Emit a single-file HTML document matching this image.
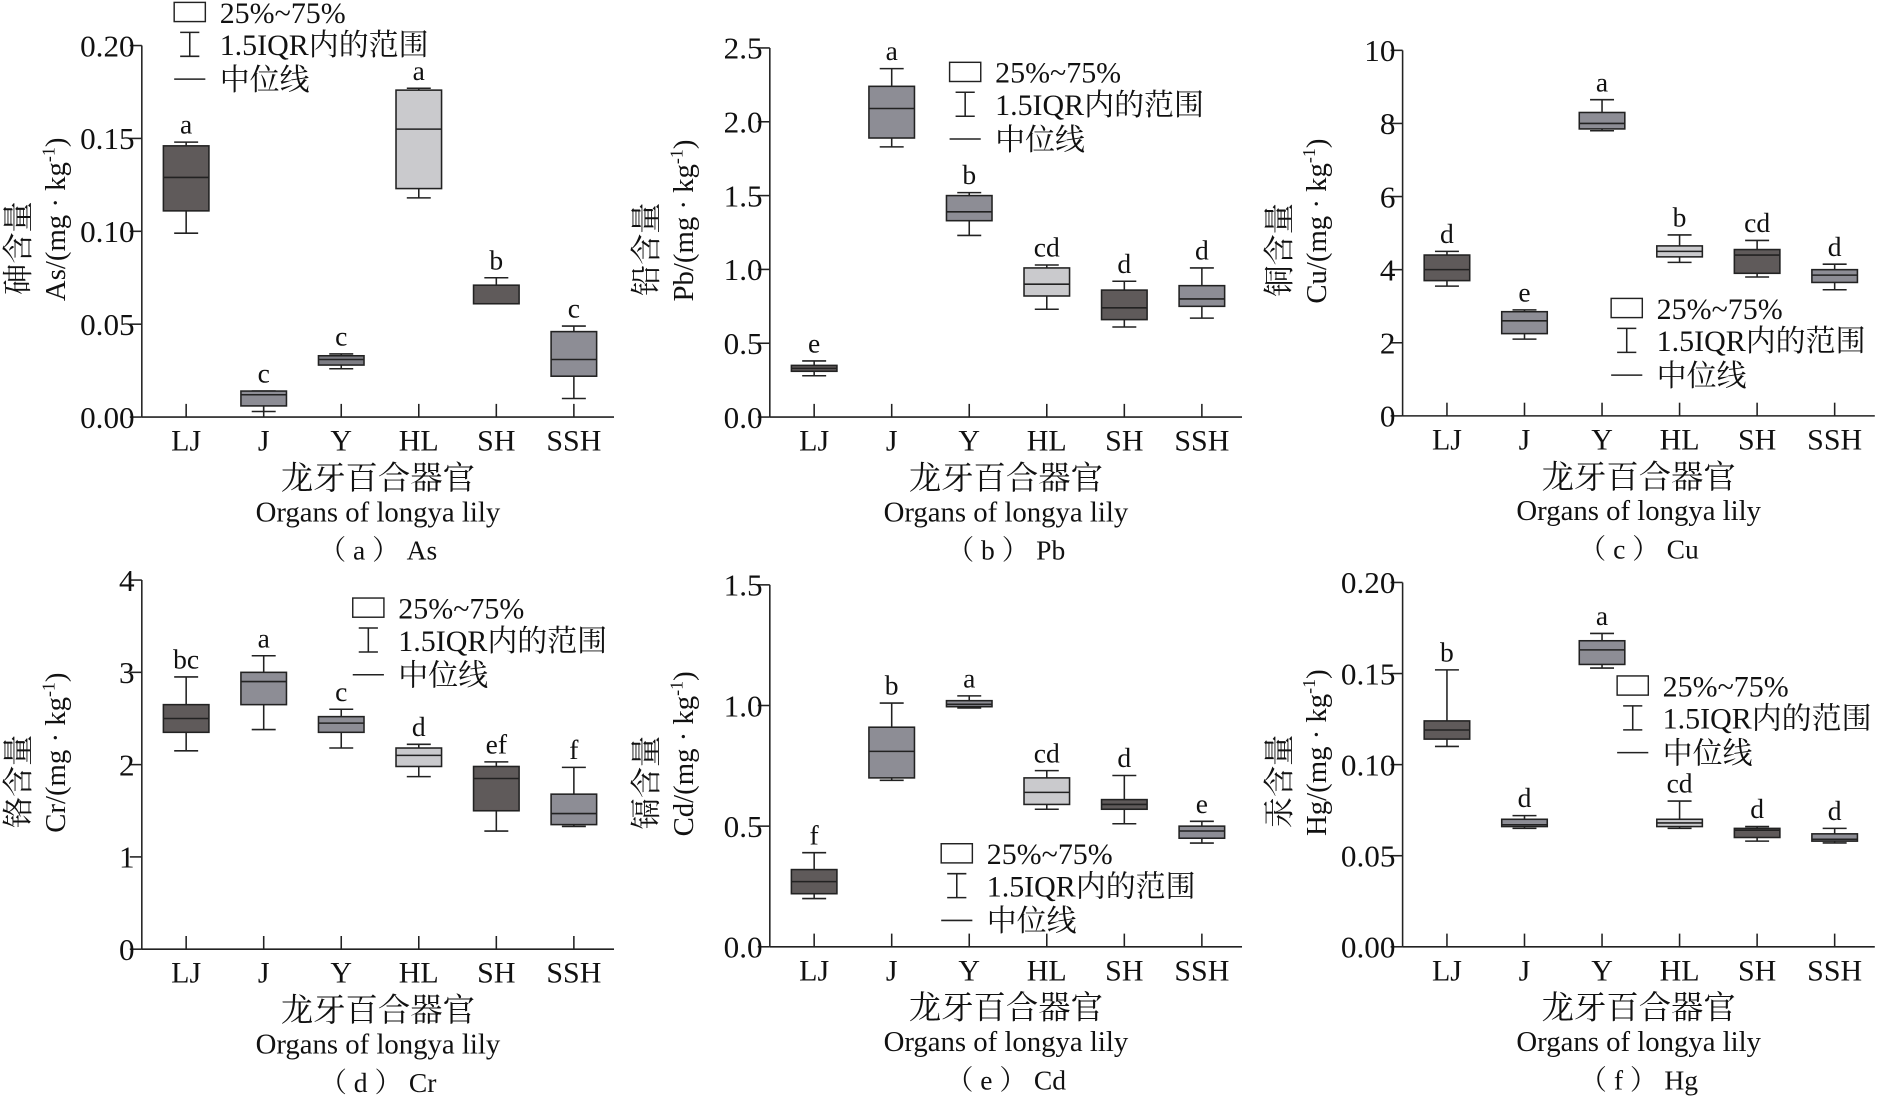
<!DOCTYPE html>
<html><head><meta charset="utf-8">
<style>
html,body{margin:0;padding:0;background:#fff;}
svg{display:block;}
text{font-family:"Liberation Serif","Noto Serif CJK SC","Noto Sans CJK SC",serif;fill:#111;}
</style></head>
<body>
<svg id="s" width="1880" height="1099" viewBox="0 0 1568 917" xmlns="http://www.w3.org/2000/svg"></svg>
<script>
const D='#5f5a5a',M='#8d8d95',L='#cacacd';
const cats=['LJ','J','Y','HL','SH','SSH'];
const panels=[
{ax:118,y0:348,y1:38,max:0.2,ticks:[0,0.05,0.1,0.15,0.2],dec:2,cn:'砷含量',el:'As',cap:'（ a ）  As',leg:[145,10],
 b:[[.099,.111,.129,.146,.148,D,'a'],[.003,.006,.012,.014,.014,M,'c'],[.026,.028,.031,.033,.034,'#7d7d84','c'],[.118,.123,.155,.176,.177,L,'a'],[.061,.061,.061,.071,.075,D,'b'],[.010,.022,.031,.046,.049,M,'c']]},
{ax:642,y0:348,y1:40,max:2.5,ticks:[0,0.5,1,1.5,2,2.5],dec:1,cn:'铅含量',el:'Pb',cap:'（ b ）  Pb',leg:[792,60],
 b:[[.28,.31,.33,.35,.38,D,'e'],[1.83,1.89,2.09,2.24,2.36,M,'a'],[1.23,1.33,1.39,1.5,1.52,M,'b'],[.73,.82,.9,1.01,1.03,L,'cd'],[.61,.66,.74,.86,.92,D,'d'],[.67,.75,.8,.89,1.01,M,'d']]},
{ax:1170,y0:347,y1:42,max:10,ticks:[0,2,4,6,8,10],dec:0,cn:'铜含量',el:'Cu',cap:'（ c ）  Cu',leg:[1344,257],
 b:[[3.55,3.7,4.0,4.4,4.5,D,'d'],[2.1,2.25,2.6,2.85,2.9,M,'e'],[7.8,7.85,8.0,8.3,8.65,M,'a'],[4.2,4.35,4.5,4.65,4.95,L,'b'],[3.8,3.9,4.4,4.55,4.8,D,'cd'],[3.45,3.65,3.85,4.0,4.15,M,'d']]},
{ax:118,y0:792,y1:484,max:4,ticks:[0,1,2,3,4],dec:0,cn:'铬含量',el:'Cr',cap:'（ d ）  Cr',leg:[294,507],
 b:[[2.15,2.35,2.5,2.65,2.95,D,'bc'],[2.38,2.65,2.9,3.0,3.18,M,'a'],[2.18,2.35,2.45,2.52,2.6,M,'c'],[1.87,1.98,2.1,2.18,2.22,L,'d'],[1.28,1.5,1.85,1.98,2.03,D,'ef'],[1.33,1.35,1.47,1.68,1.97,M,'f']]},
{ax:642,y0:790,y1:488,max:1.5,ticks:[0,0.5,1,1.5],dec:1,cn:'镉含量',el:'Cd',cap:'（ e ）  Cd',leg:[785,712],
 b:[[.2,.22,.27,.32,.39,D,'f'],[.69,.7,.81,.91,1.01,M,'b'],[.99,.995,1.005,1.02,1.04,M,'a'],[.57,.59,.64,.7,.73,L,'cd'],[.51,.57,.59,.61,.71,D,'d'],[.43,.45,.48,.5,.52,M,'e']]},
{ax:1170,y0:790,y1:486,max:0.2,ticks:[0,0.05,0.1,0.15,0.2],dec:2,cn:'汞含量',el:'Hg',cap:'（ f ）  Hg',leg:[1349,572],
 b:[[.11,.114,.119,.124,.152,D,'b'],[.065,.066,.067,.07,.072,M,'d'],[.153,.155,.163,.168,.172,M,'a'],[.065,.066,.068,.07,.08,L,'cd'],[.058,.06,.064,.065,.066,D,'d'],[.057,.058,.059,.062,.065,M,'d']]}
];
let h='';
const ln=(x1,y1,x2,y2,w)=>`<line x1="${x1}" y1="${y1}" x2="${x2}" y2="${y2}" stroke="#222" stroke-width="${w||1.3}"/>`;
for(const p of panels){
 const Y=v=>p.y0-(v/p.max)*(p.y0-p.y1);
 const ax=p.ax, xe=ax+394;
 h+=ln(ax,p.y1,ax,p.y0)+ln(ax,p.y0,xe,p.y0);
 for(const t of p.ticks){const y=Y(t);h+=ln(ax-10,y,ax,y);
  h+=`<text x="${ax-6}" y="${y+9}" font-size="26" text-anchor="end">${t.toFixed(p.dec)}</text>`;}
 p.b.forEach((b,i)=>{
  const cx=ax+37+i*64.7, w=19;
  h+=ln(cx,p.y0,cx,p.y0-11);
  h+=`<text x="${cx}" y="${p.y0+28}" font-size="25" text-anchor="middle">${cats[i]}</text>`;
  h+=ln(cx,Y(b[0]),cx,Y(b[1]))+ln(cx,Y(b[3]),cx,Y(b[4]));
  h+=ln(cx-10,Y(b[0]),cx+10,Y(b[0]))+ln(cx-10,Y(b[4]),cx+10,Y(b[4]));
  h+=`<rect x="${cx-w}" y="${Y(b[3])}" width="${2*w}" height="${Math.max(1,Y(b[1])-Y(b[3]))}" fill="${b[5]}" stroke="#222" stroke-width="1.3"/>`;
  h+=ln(cx-w,Y(b[2]),cx+w,Y(b[2]));
  h+=`<text x="${cx}" y="${Y(b[4])-7}" font-size="23" text-anchor="middle">${b[6]}</text>`;
 });
 const mx=ax+197;
 h+=`<text x="${mx}" y="${p.y0+60}" font-size="27" text-anchor="middle">龙牙百合器官</text>`;
 h+=`<text x="${mx}" y="${p.y0+87}" font-size="24" text-anchor="middle">Organs of longya lily</text>`;
 h+=`<text x="${mx}" y="${p.y0+119}" font-size="23" text-anchor="middle">${p.cap}</text>`;
 const cy=(p.y0+p.y1)/2;
 h+=`<text transform="translate(${ax-94},${cy+14}) rotate(-90)" font-size="26" text-anchor="middle">${p.cn}</text>`;
 h+=`<text transform="translate(${ax-64},${cy-10}) rotate(-90)" font-size="24" text-anchor="middle">${p.el}/(mg · kg<tspan dy="-9" font-size="15">-1</tspan><tspan dy="9">)</tspan></text>`;
 const [lx,ly]=p.leg;
 h+=`<rect x="${lx}" y="${ly-8}" width="26" height="16" fill="#fff" stroke="#222" stroke-width="1.2"/>`;
 h+=`<text x="${lx+38}" y="${ly+9}" font-size="25">25%~75%</text>`;
 const y2=ly+27;
 h+=ln(lx+5,y2-10,lx+21,y2-10)+ln(lx+13,y2-10,lx+13,y2+10)+ln(lx+5,y2+10,lx+21,y2+10);
 h+=`<text x="${lx+38}" y="${y2+9}" font-size="25">1.5IQR内的范围</text>`;
 const y3=ly+56;
 h+=ln(lx,y3,lx+26,y3);
 h+=`<text x="${lx+38}" y="${y3+9}" font-size="25">中位线</text>`;
}
document.getElementById('s').innerHTML=h;
</script>
</body></html>
